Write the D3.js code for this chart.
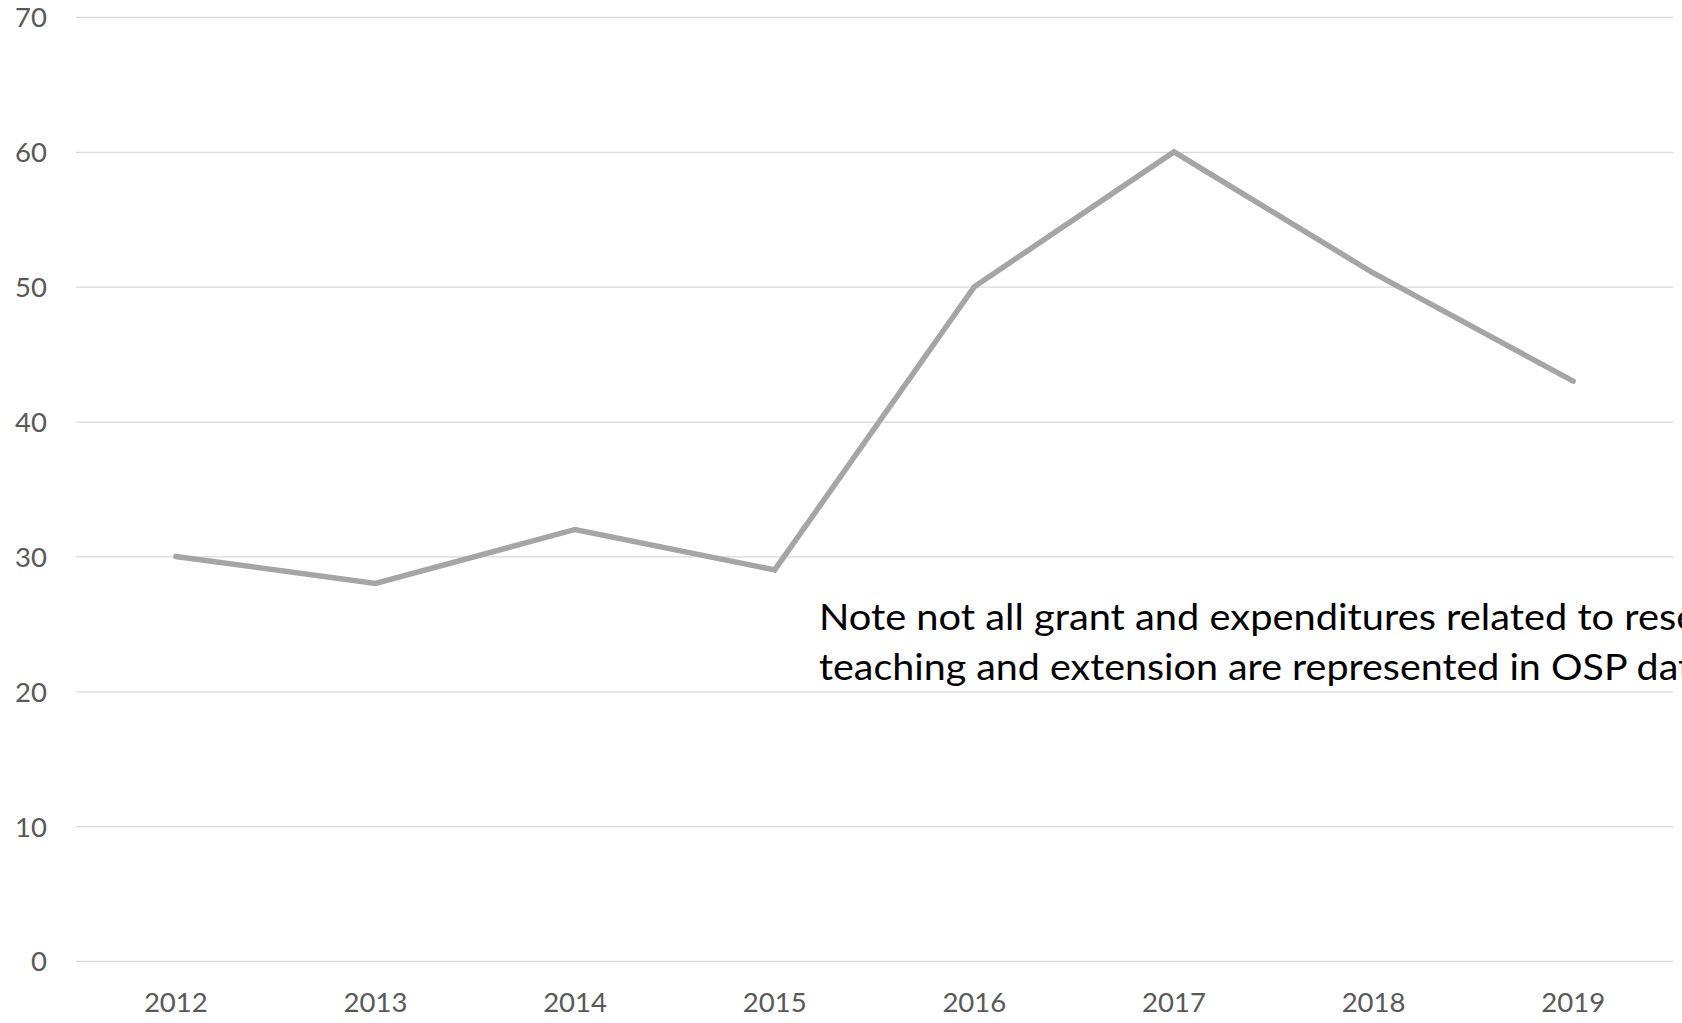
<!DOCTYPE html>
<html>
<head>
<meta charset="utf-8">
<script src="https://cdn.jsdelivr.net/npm/d3@7"></script>
<style>
  html, body { margin: 0; padding: 0; background: #ffffff; overflow: hidden; }
  svg { display: block; }
</style>
</head>
<body>
<svg id="chart" width="1682" height="1023"></svg>
<script>
const years = ["2012", "2013", "2014", "2015", "2016", "2017", "2018", "2019"];
const values = [30, 28, 32, 29, 50, 60, 51, 43];
const yTicks = [0, 10, 20, 30, 40, 50, 60, 70];
const noteLines = [
  "Note not all grant and expenditures related to research,",
  "teaching and extension are represented in OSP data."
];

const W = 1682, H = 1023;
const plot = { left: 76, right: 1673, top: 17, bottom: 961 };

const svg = d3.select("#chart");

const x = d3.scaleBand().domain(years).range([plot.left, plot.right]).padding(0);
const y = d3.scaleLinear().domain([0, 70]).range([plot.bottom, plot.top]);

// gridlines
const grid = svg.append("g")
  .attr("transform", `translate(${plot.left},0)`)
  .call(d3.axisLeft(y).tickValues(yTicks).tickSize(-(plot.right - plot.left)).tickFormat(""));
grid.select(".domain").remove();
grid.selectAll(".tick line").attr("stroke", "#d9d9d9").attr("stroke-width", 1.3);

// y labels
const yAxis = svg.append("g")
  .attr("transform", `translate(47,0)`)
  .call(d3.axisLeft(y).tickValues(yTicks).tickSize(0).tickPadding(0).tickFormat(d3.format("d")));
yAxis.select(".domain").remove();
yAxis.selectAll(".tick text")
  .attr("font-family", "Lato, 'Open Sans', sans-serif")
  .attr("font-size", 27.5)
  .attr("fill", "#595959")
  .attr("dy", "0.36em");

// x labels
const xAxis = svg.append("g")
  .attr("transform", `translate(0,${plot.bottom})`)
  .call(d3.axisBottom(x).tickSize(0).tickPadding(0));
xAxis.select(".domain").remove();
xAxis.selectAll(".tick text")
  .attr("font-family", "Lato, 'Open Sans', sans-serif")
  .attr("font-size", 27.5)
  .attr("fill", "#595959")
  .attr("dy", null)
  .attr("y", 50.5);

// line
const line = d3.line()
  .x((d, i) => x(years[i]) + x.bandwidth() / 2)
  .y(d => y(d));

svg.append("path")
  .datum(values)
  .attr("d", line)
  .attr("fill", "none")
  .attr("stroke", "#a5a5a5")
  .attr("stroke-width", 5.5)
  .attr("stroke-linecap", "round")
  .attr("stroke-linejoin", "miter");

// note text (runs past the right edge, as in the reference)
const noteLens = [962, 902];
const note = svg.append("g");
note.selectAll("text")
  .data(noteLines)
  .join("text")
  .attr("x", 819)
  .attr("y", (d, i) => 630 + i * 49.5)
  .attr("font-family", "Lato, 'Open Sans', sans-serif")
  .attr("font-size", 37.3)
  .attr("fill", "#000000")
  .attr("textLength", (d, i) => noteLens[i])
  .attr("lengthAdjust", "spacingAndGlyphs")
  .text(d => d);
</script>
</body>
</html>
